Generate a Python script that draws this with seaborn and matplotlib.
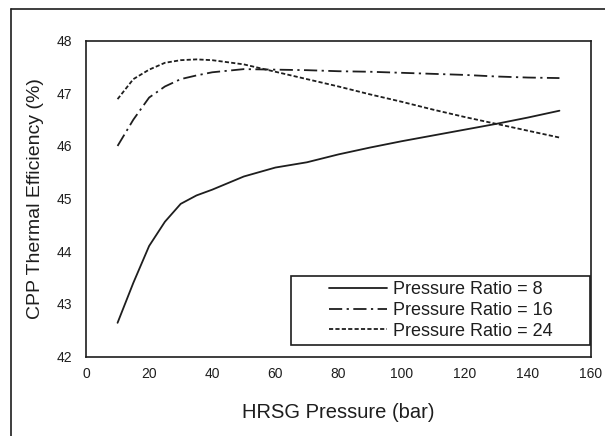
import matplotlib
matplotlib.use("Agg")
import matplotlib.pyplot as plt
from matplotlib.patches import Rectangle
from matplotlib.lines import Line2D
import seaborn as sns
import pandas as pd

# HRSG pressure (bar) and combined power plant efficiency (%) per compressor pressure ratio
hrsg_pressure = [10, 15, 20, 25, 30, 35, 40, 50, 60, 70, 80, 90, 100, 110, 120, 130, 140, 150]
eff_pr8 = [42.64, 43.40, 44.10, 44.56, 44.90, 45.06, 45.17, 45.42, 45.59, 45.69,
           45.84, 45.97, 46.09, 46.20, 46.31, 46.42, 46.54, 46.67]
eff_pr16 = [46.00, 46.50, 46.92, 47.13, 47.27, 47.34, 47.40, 47.46, 47.45, 47.44,
            47.42, 47.41, 47.39, 47.37, 47.35, 47.32, 47.30, 47.29]
eff_pr24 = [46.89, 47.27, 47.45, 47.58, 47.63, 47.645, 47.63, 47.55, 47.41, 47.27,
            47.13, 46.98, 46.84, 46.69, 46.55, 46.42, 46.29, 46.16]
series_labels = ["Pressure Ratio = 8", "Pressure Ratio = 16", "Pressure Ratio = 24"]

x_ticks = [0, 20, 40, 60, 80, 100, 120, 140, 160]
y_ticks = [42, 43, 44, 45, 46, 47, 48]

sns.set_theme(style="white")
plt.rcParams["font.family"] = ["Liberation Sans", "DejaVu Sans"]
plt.rcParams["lines.scale_dashes"] = False

df = pd.concat([
    pd.DataFrame({"pressure": hrsg_pressure, "efficiency": vals, "series": lab})
    for vals, lab in zip([eff_pr8, eff_pr16, eff_pr24], series_labels)
], ignore_index=True)

ink = "#1e1e1e"
fig = plt.figure(figsize=(6.05, 4.36), dpi=100)
ax = fig.add_axes([86 / 605, 1 - 356.5 / 436, 505 / 605, 315.8 / 436])

dash_styles = {
    series_labels[0]: "",
    series_labels[1]: (9.5, 3.2, 1.6, 3.2),
    series_labels[2]: (3.0, 1.6),
}
sns.lineplot(data=df, x="pressure", y="efficiency", style="series",
             dashes=dash_styles, color=ink, linewidth=1.3, ax=ax,
             legend=False, sort=False)

ax.set_xlim(0, 160)
ax.set_ylim(42, 48)
ax.set_xticks(x_ticks)
ax.set_yticks(y_ticks)
ax.tick_params(axis="both", which="major", direction="out", length=4, width=1,
               color=ink, labelsize=10, labelcolor=ink)
ax.tick_params(axis="x", pad=3.5)
ax.tick_params(axis="y", pad=6)
for sp in ax.spines.values():
    sp.set_visible(True)
    sp.set_color(ink)
    sp.set_linewidth(1.2)

ax.set_xlabel("HRSG Pressure (bar)", fontsize=14.5, color=ink, labelpad=16)
ax.set_ylabel("CPP Thermal Efficiency (%)", fontsize=14, color=ink, labelpad=9)

# legend: plain entries inside a square-cornered black box
handles = [Line2D([], [], color=ink, linewidth=1.3,
                  linestyle="-" if lab == series_labels[0] else (0, dash_styles[lab]))
           for lab in series_labels]
leg = ax.legend(handles, series_labels, loc="center", bbox_to_anchor=(0.703, 0.146),
                frameon=False, fontsize=13, handlelength=3.2, handletextpad=0.35,
                labelspacing=0.2, borderpad=0, labelcolor=ink)
ax.add_patch(Rectangle((0.406, 0.0364), 0.592, 0.2186, transform=ax.transAxes,
                       fill=False, edgecolor=ink, linewidth=1.2, zorder=4))

# outer figure border (left and top edges)
x0 = 10.7 / 605
y0 = 1 - 9.3 / 436
fig.add_artist(Line2D([x0, x0], [0, y0], transform=fig.transFigure, color=ink, linewidth=1.2))
fig.add_artist(Line2D([x0, 1], [y0, y0], transform=fig.transFigure, color=ink, linewidth=1.2))

fig.savefig("out.png", dpi=100, facecolor="white")
